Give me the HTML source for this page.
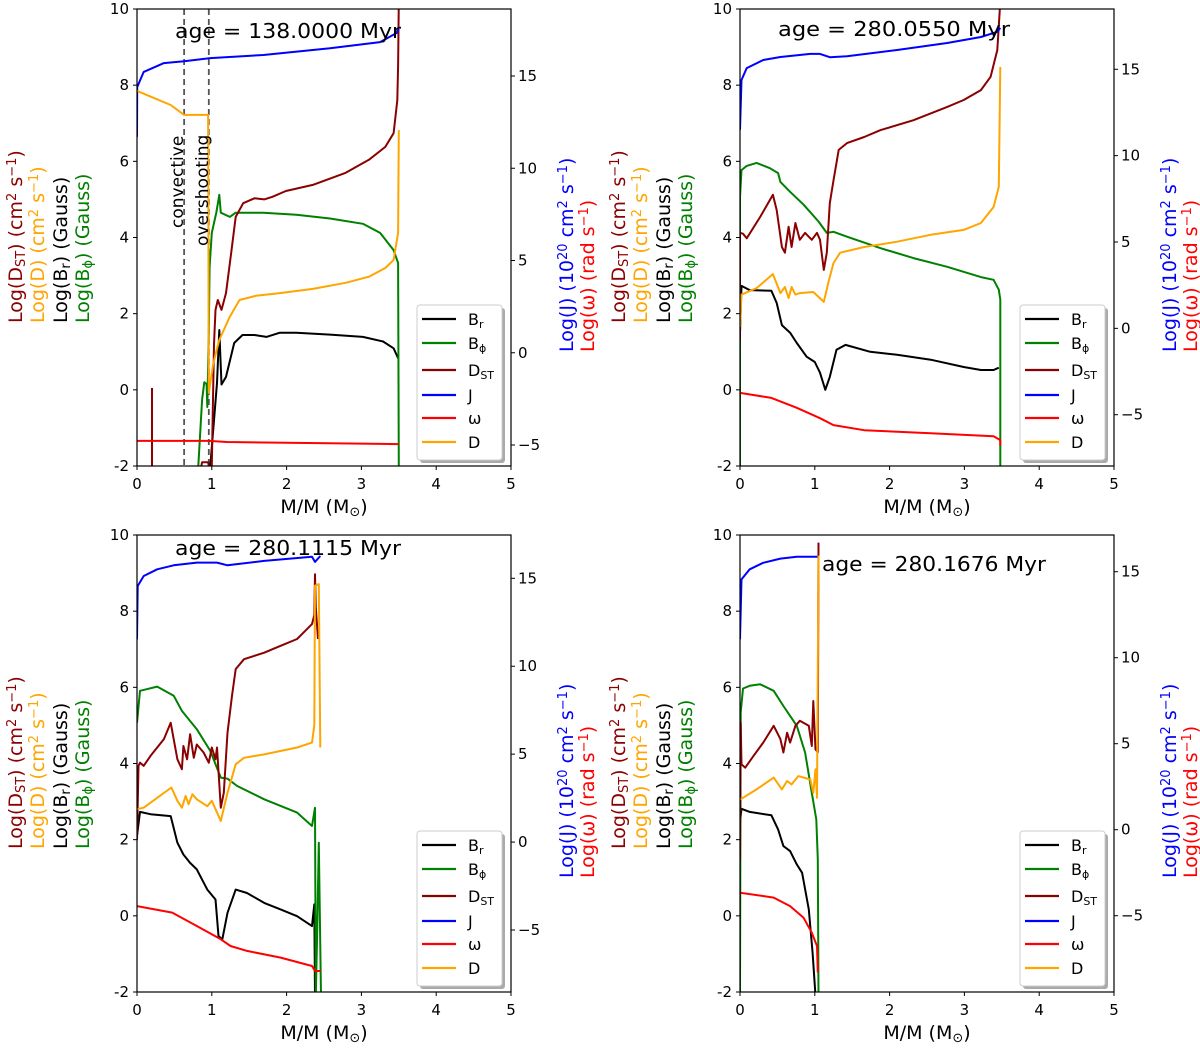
<!DOCTYPE html>
<html><head><meta charset="utf-8"><style>
html,body{margin:0;padding:0;background:#fff;}
svg{display:block;font-family:"DejaVu Sans","Liberation Sans",sans-serif;}
</style></head><body>
<svg id="fig" width="1200" height="1051" viewBox="0 0 1200 1051" xmlns="http://www.w3.org/2000/svg"></svg>
<script>
// ---- data: [mass (Msun), value] ; Br,Bphi,DST,D on left axis; J, omega on right axis ----
const xTicks=[0,1,2,3,4,5];
const leftTicks=[-2,0,2,4,6,8,10];
const rightTicks=[-5,0,5,10,15];
const ages=["138.0000","280.0550","280.1115","280.1676"];
const seriesNames=["Br","Bphi","DST","J","omega","D"];

const p1Br=[[0.98,-2],[1.07,0.18],[1.1,1.57],[1.13,0.14],[1.19,0.34],[1.3,1.23],[1.41,1.44],[1.57,1.44],[1.73,1.39],[1.91,1.5],[2.13,1.5],[2.58,1.45],[3.02,1.39],[3.29,1.27],[3.43,1.09],[3.49,0.83]];
const p1Bphi=[[0.82,-2],[0.87,-0.26],[0.9,0.2],[0.93,0.15],[0.94,-0.45],[0.96,1.5],[0.97,3.23],[1.0,4.12],[1.06,4.65],[1.1,5.12],[1.12,4.65],[1.24,4.54],[1.32,4.65],[1.69,4.65],[2.13,4.6],[2.58,4.5],[3.02,4.36],[3.25,4.12],[3.43,3.67],[3.49,3.33],[3.5,-2]];
const p1Dst=[[1.0,-2],[1.03,1.2],[1.05,2.1],[1.08,2.36],[1.13,2.1],[1.19,2.54],[1.26,3.6],[1.32,4.54],[1.42,4.9],[1.57,5.03],[1.7,5.0],[1.81,5.07],[1.99,5.22],[2.35,5.38],[2.79,5.7],[3.1,6.04],[3.32,6.38],[3.43,6.74],[3.48,7.6],[3.49,8.5],[3.5,10.2]];
const p1DstSpike=[[0.2,0.05],[0.2,-2.1]];
const p1DstLow=[[0.85,-2.1],[0.87,-1.9],[0.95,-1.9],[0.97,-2.1]];
const p1J=[[0,11.7],[0.003,14.4],[0.09,15.22],[0.36,15.7],[0.63,15.8],[0.98,15.97],[1.69,16.14],[2.58,16.5],[3.25,16.84],[3.47,17.33],[3.5,17.6]];
const p1Omega=[[0,-4.78],[0.96,-4.78],[1.2,-4.84],[3.5,-4.95]];
const p1D=[[0,7.85],[0.18,7.7],[0.45,7.48],[0.63,7.22],[0.95,7.22],[0.96,-0.08],[1.02,0.7],[1.1,1.31],[1.24,1.92],[1.37,2.36],[1.59,2.47],[1.91,2.54],[2.35,2.65],[2.79,2.81],[3.1,2.97],[3.32,3.2],[3.43,3.41],[3.49,4.12],[3.5,6.82]];

const p2Br=[[0,1.5],[0.02,2.73],[0.13,2.62],[0.42,2.6],[0.49,2.28],[0.56,1.7],[0.63,1.57],[0.67,1.5],[0.76,1.23],[0.89,0.87],[1.0,0.73],[1.07,0.45],[1.14,0],[1.2,0.34],[1.29,1.05],[1.41,1.18],[1.74,1.0],[2.1,0.92],[2.55,0.79],[2.99,0.6],[3.22,0.52],[3.39,0.52],[3.46,0.58]];
const p2Bphi=[[0,-2],[0,5.07],[0.02,5.77],[0.09,5.88],[0.22,5.96],[0.4,5.82],[0.51,5.69],[0.54,5.46],[0.67,5.2],[0.85,4.86],[1.05,4.42],[1.16,4.12],[1.25,4.15],[1.43,4.02],[1.88,3.72],[2.32,3.46],[2.77,3.23],[3.22,2.96],[3.39,2.89],[3.46,2.63],[3.48,2.37],[3.48,-2]];
const p2Dst=[[0,1.31],[0,4.12],[0.04,4.1],[0.09,3.98],[0.27,4.54],[0.44,5.12],[0.49,4.72],[0.56,3.75],[0.6,3.6],[0.65,4.28],[0.69,3.75],[0.74,4.38],[0.8,3.94],[0.87,4.12],[0.96,3.94],[1.03,4.12],[1.07,3.94],[1.12,3.15],[1.16,3.6],[1.2,4.9],[1.25,5.5],[1.32,6.3],[1.43,6.48],[1.66,6.64],[1.88,6.82],[2.32,7.08],[2.77,7.43],[2.99,7.61],[3.22,7.87],[3.35,8.22],[3.44,8.92],[3.48,10.2]];
const p2J=[[0,11.49],[0.02,14.38],[0.09,15.07],[0.31,15.54],[0.54,15.71],[0.94,15.89],[1.07,15.89],[1.2,15.7],[1.43,15.75],[2.1,16.12],[2.77,16.52],[3.22,16.87],[3.44,17.17],[3.48,17.4]];
const p2Omega=[[0,-3.74],[0.42,-4.03],[0.76,-4.6],[1.07,-5.2],[1.25,-5.6],[1.66,-5.9],[2.55,-6.07],[3.39,-6.25],[3.48,-6.47],[3.48,-6.8]];
const p2D=[[0,1.65],[0.02,2.5],[0.22,2.67],[0.44,3.04],[0.54,2.54],[0.6,2.7],[0.65,2.41],[0.69,2.7],[0.74,2.5],[0.8,2.54],[0.98,2.57],[1.12,2.31],[1.18,2.81],[1.25,3.33],[1.34,3.6],[1.66,3.75],[2.1,3.89],[2.55,4.07],[2.99,4.2],[3.22,4.38],[3.39,4.8],[3.46,5.33],[3.48,8.48]];

const p3Br=[[0,2.1],[0.04,2.73],[0.18,2.67],[0.45,2.62],[0.54,1.92],[0.62,1.61],[0.71,1.39],[0.8,1.22],[0.94,0.69],[1.05,0.43],[1.09,-0.53],[1.14,-0.62],[1.21,0.08],[1.32,0.69],[1.47,0.6],[1.7,0.34],[1.92,0.17],[2.14,-0.01],[2.34,-0.27],[2.37,0.3],[2.38,-2.1]];
const p3Bphi=[[0,5.07],[0.04,5.91],[0.13,5.95],[0.27,6.02],[0.49,5.78],[0.6,5.38],[0.8,4.9],[0.98,4.33],[1.12,3.63],[1.21,3.6],[1.34,3.41],[1.7,3.06],[2.14,2.71],[2.34,2.36],[2.38,2.84],[2.39,-2.1],[2.41,-0.3],[2.43,1.92],[2.46,-2.1]];
const p3Dst=[[0,2.0],[0.02,3.94],[0.04,4.02],[0.09,3.94],[0.18,4.2],[0.36,4.64],[0.45,5.07],[0.54,4.11],[0.6,3.85],[0.62,4.46],[0.67,4.11],[0.71,4.77],[0.76,4.15],[0.8,4.5],[0.89,4.29],[0.96,4.02],[1.0,4.42],[1.05,4.11],[1.07,4.42],[1.12,2.84],[1.16,3.23],[1.21,4.81],[1.27,5.78],[1.32,6.48],[1.43,6.74],[1.7,6.91],[1.92,7.09],[2.14,7.27],[2.34,7.66],[2.37,7.9],[2.38,8.97],[2.39,8.1],[2.42,7.27]];
const p3J=[[0,11.53],[0.01,14.56],[0.09,15.13],[0.27,15.51],[0.49,15.74],[0.8,15.89],[1.07,15.89],[1.21,15.74],[1.7,15.99],[2.34,16.23],[2.38,15.93],[2.45,16.27]];
const p3Omega=[[0,-3.64],[0.47,-4.01],[0.8,-4.77],[1.12,-5.53],[1.25,-5.91],[1.47,-6.19],[1.92,-6.57],[2.34,-7.05],[2.38,-7.33],[2.46,-7.33]];
const p3D=[[0,2.8],[0.09,2.84],[0.27,3.1],[0.46,3.37],[0.54,3.02],[0.6,2.84],[0.65,3.15],[0.69,2.93],[0.74,3.19],[0.8,3.06],[0.94,2.88],[1.0,3.02],[1.12,2.49],[1.21,3.23],[1.32,3.98],[1.43,4.15],[1.7,4.24],[2.14,4.42],[2.34,4.55],[2.37,5.0],[2.38,8.67],[2.43,8.71],[2.45,4.42]];

const p4Br=[[0,2.45],[0.02,2.81],[0.13,2.73],[0.42,2.64],[0.51,2.27],[0.58,1.83],[0.67,1.7],[0.76,1.35],[0.83,1.13],[0.92,0.17],[0.97,-0.97],[1.01,-2.1]];
const p4Bphi=[[0,-2],[0.01,5.34],[0.04,5.97],[0.13,6.04],[0.27,6.08],[0.45,5.91],[0.58,5.51],[0.76,4.99],[0.87,4.29],[0.96,3.23],[1.02,2.53],[1.04,1.48],[1.05,-2.1]];
const p4Dst=[[0,1.48],[0.01,5.07],[0.02,3.98],[0.07,3.89],[0.18,4.2],[0.31,4.55],[0.45,4.99],[0.54,4.64],[0.58,4.29],[0.63,4.81],[0.67,4.55],[0.74,4.99],[0.8,5.12],[0.92,4.99],[0.96,4.46],[0.98,5.64],[1.01,4.37],[1.04,4.3],[1.05,9.8]];
const p4J=[[0,11.07],[0.02,14.55],[0.13,15.14],[0.31,15.52],[0.54,15.76],[0.76,15.87],[1.05,15.87]];
const p4Omega=[[0,-3.66],[0.45,-3.95],[0.67,-4.44],[0.85,-5.12],[0.96,-5.99],[1.03,-6.76],[1.04,-8.31]];
const p4D=[[0,3.06],[0.04,3.1],[0.22,3.32],[0.45,3.63],[0.56,3.32],[0.63,3.54],[0.69,3.45],[0.78,3.67],[0.94,3.58],[0.98,3.23],[1.01,3.85],[1.03,3.1],[1.05,9.46]];

const NS="http://www.w3.org/2000/svg";
const svg=document.getElementById('fig');
function mk(tag,attrs,parent){const e=document.createElementNS(NS,tag);for(const k in attrs)e.setAttribute(k,attrs[k]);(parent||svg).appendChild(e);return e;}

const colors={Br:"#000000",Bphi:"#008000",DST:"#8b0000",J:"#0000ff",omega:"#ff0000",D:"#ffa500"};
const panels=[
 {x0:137,top:9,r15:76,rm5:445,age:{x:175,y:38,w:226},data:{Br:[p1Br],Bphi:[p1Bphi],DST:[p1Dst,p1DstSpike,p1DstLow],J:[p1J],omega:[p1Omega],D:[p1D]},extra:true},
 {x0:740,top:9,r15:69.3,rm5:414.7,age:{x:778,y:36,w:232},data:{Br:[p2Br],Bphi:[p2Bphi],DST:[p2Dst],J:[p2J],omega:[p2Omega],D:[p2D]}},
 {x0:137,top:535,r15:578.3,rm5:930,age:{x:175,y:555,w:226},data:{Br:[p3Br],Bphi:[p3Bphi],DST:[p3Dst],J:[p3J],omega:[p3Omega],D:[p3D]}},
 {x0:740,top:535,r15:571.7,rm5:915.7,age:{x:822,y:571,w:224},data:{Br:[p4Br],Bphi:[p4Bphi],DST:[p4Dst],J:[p4J],omega:[p4Omega],D:[p4D]}}
];
const W=374,H=457;

function labelText(parent,x,y,color,parts,name){
  const t=mk('text',{x:x,y:y,fill:color,'font-size':19,transform:`rotate(-90 ${x} ${y})`},parent);
  
  
  parts.forEach(p=>{const s=mk('tspan',{},t);s.textContent=p[0];
    if(p[1]==='sub'){s.setAttribute('font-size',13);s.setAttribute('baseline-shift','-25%');}
    if(p[1]==='sup'){s.setAttribute('font-size',13);s.setAttribute('baseline-shift','45%');}
  });
  return t;
}

panels.forEach((P,i)=>{
  const g=mk('g',{});
  
  
  const sx=x=>P.x0+x*W/5;
  const syL=y=>P.top+(10-y)*H/12;
  const syR=v=>P.r15+(15-v)*(P.rm5-P.r15)/20;
  const bottom=P.top+H;
  const cid='clip'+i;
  const cp=mk('clipPath',{id:cid},g);mk('rect',{x:P.x0,y:P.top,width:W,height:H},cp);
  const plot=mk('g',{'clip-path':`url(#${cid})`},g);
  
  
  if(P.extra){
    [0.63,0.96].forEach((xv,k)=>{
      const l=mk('line',{x1:sx(xv),x2:sx(xv),y1:P.top,y2:bottom,stroke:'#555','stroke-width':1.8,'stroke-dasharray':'6,4'},plot);
      
      
    });
  }
  seriesNames.forEach(s=>{
    const right=(s==='J'||s==='omega');
    P.data[s].forEach(arr=>{
      const d=arr.map((p,k)=>(k?'L':'M')+sx(p[0]).toFixed(1)+','+(right?syR(p[1]):syL(p[1])).toFixed(1)).join('');
      const pa=mk('path',{d:d,fill:'none',stroke:colors[s],'stroke-width':2,'stroke-linejoin':'round'},plot);
      
      
    });
  });
  if(P.extra){
    const t1=mk('text',{x:183,y:228,'font-size':17,fill:'#000',transform:'rotate(-90 183 228)'},g);t1.textContent='convective';
    
    
    const t2=mk('text',{x:208,y:246,'font-size':17,fill:'#000',transform:'rotate(-90 208 246)'},g);t2.textContent='overshooting';
    
    
  }
  const fr=mk('rect',{x:P.x0,y:P.top,width:W,height:H,fill:'none',stroke:'#000','stroke-width':1.2},g);
  
  
  xTicks.forEach(v=>{
    mk('line',{x1:sx(v),x2:sx(v),y1:bottom,y2:bottom+4,stroke:'#000','stroke-width':1},g);
    const t=mk('text',{x:sx(v),y:bottom+23,'font-size':15,'text-anchor':'middle'},g);t.textContent=v;
    
    
  });
  leftTicks.forEach(v=>{
    mk('line',{x1:P.x0-4,x2:P.x0,y1:syL(v),y2:syL(v),stroke:'#000','stroke-width':1},g);
    const t=mk('text',{x:P.x0-8,y:syL(v)+5,'font-size':15,'text-anchor':'end'},g);t.textContent=v;
    
    
  });
  rightTicks.forEach(v=>{
    mk('line',{x1:P.x0+W,x2:P.x0+W+4,y1:syR(v),y2:syR(v),stroke:'#000','stroke-width':1},g);
    const t=mk('text',{x:P.x0+W+7,y:syR(v)+5,'font-size':15,'text-anchor':'start'},g);t.textContent=(v<0?'\u2212'+(-v):v);
    
    
  });
  const xl=mk('text',{x:P.x0+W/2,y:bottom+47,'font-size':19,'text-anchor':'middle'},g);
  
  
  const a=mk('tspan',{},xl);a.textContent='M/M (M';
  const b=mk('tspan',{'font-size':13,'baseline-shift':'-25%'},xl);b.textContent='\u2299';
  const c=mk('tspan',{},xl);c.textContent=')';
  const ag=mk('text',{x:P.age.x,y:P.age.y,'font-size':20,textLength:P.age.w,lengthAdjust:'spacingAndGlyphs'},g);
  ag.textContent='age = '+ages[i]+' Myr';
  
  
  const lb=P.top+314, lx=P.x0-115;
  labelText(g,lx,lb,'#8b0000',[['Log(D'],['ST','sub'],[') (cm'],['2','sup'],[' s'],['\u22121','sup'],[')']],'y-axis-title-dst');
  labelText(g,lx+22,lb,'#ffa500',[['Log(D) (cm'],['2','sup'],[' s'],['\u22121','sup'],[')']],'y-axis-title-d');
  labelText(g,lx+45,lb,'#000000',[['Log(B'],['r','sub'],[') (Gauss)']],'y-axis-title-br');
  labelText(g,lx+67,lb,'#008000',[['Log(B'],['\u03d5','sub'],[') (Gauss)']],'y-axis-title-bphi');
  const rb=P.top+343, rx=P.x0+W+62;
  labelText(g,rx,rb,'#0000ff',[['Log(J) (10'],['20','sup'],[' cm'],['2','sup'],[' s'],['\u22121','sup'],[')']],'right-y-axis-title-j');
  labelText(g,rx+21,rb,'#ff0000',[['Log(\u03c9) (rad s'],['\u22121','sup'],[')']],'right-y-axis-title-omega');
  const lg=mk('g',{},g);
  
  
  const lxp=P.x0+W-94, lyp=P.top+296;
  mk('rect',{x:lxp+3,y:lyp+3,width:85,height:155,fill:'#aaa',rx:3},lg);
  mk('rect',{x:lxp,y:lyp,width:85,height:155,fill:'#fff',stroke:'#ccc','stroke-width':1,rx:3},lg);
  const labs=[[['B'],['r','sub']],[['B'],['\u03d5','sub']],[['D'],['ST','sub']],[['J']],[['\u03c9']],[['D']]];
  const ys=[14,38,65,90,113,137];
  seriesNames.forEach((s,k)=>{
    const e=mk('g',{},lg);
    
    
    mk('line',{x1:lxp+5,x2:lxp+39,y1:lyp+ys[k],y2:lyp+ys[k],stroke:colors[s],'stroke-width':2.2},e);
    const t=mk('text',{x:lxp+51,y:lyp+ys[k]+6,'font-size':16},e);
    labs[k].forEach(p=>{const sp=mk('tspan',{},t);sp.textContent=p[0];if(p[1]){sp.setAttribute('font-size',11);sp.setAttribute('baseline-shift','-25%');}});
  });
});
</script>
</body></html>
